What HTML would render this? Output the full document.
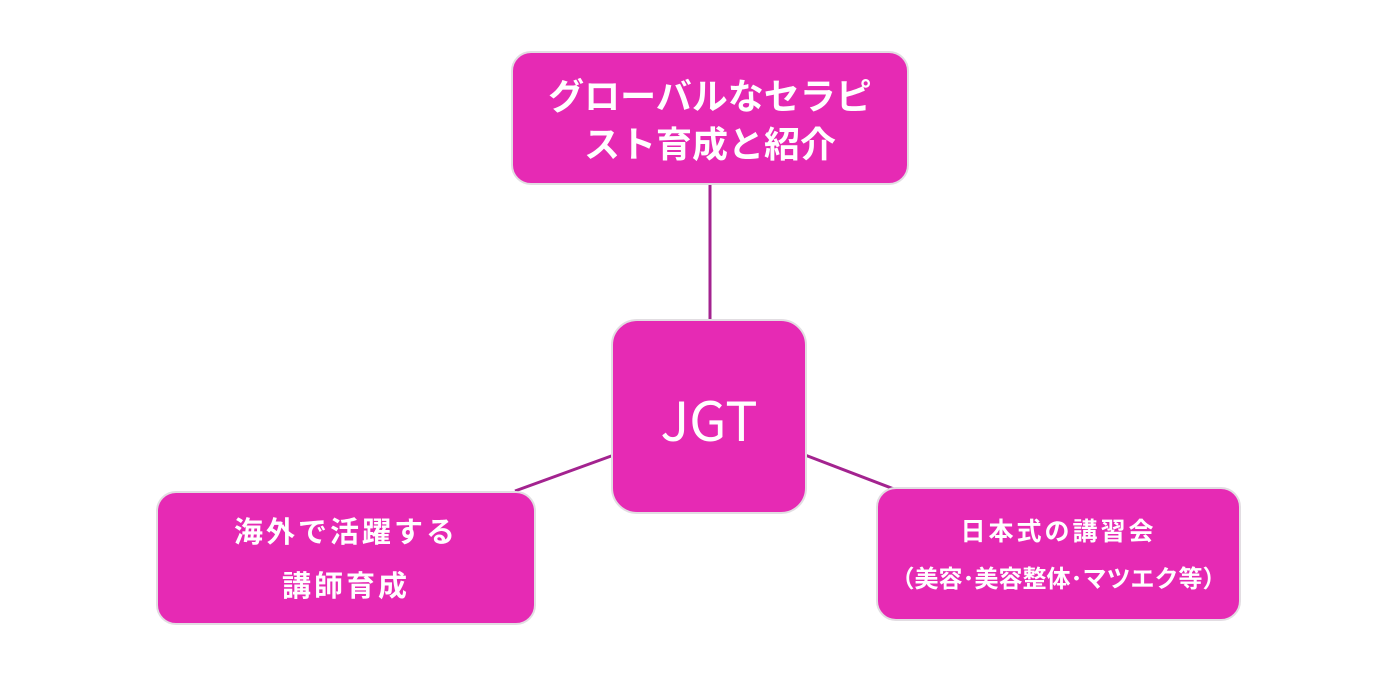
<!DOCTYPE html>
<html><head><meta charset="utf-8"><style>
body{margin:0;width:1390px;height:686px;background:#fff;position:relative;overflow:hidden;font-family:"Liberation Sans","Noto Sans CJK JP",sans-serif;}
.b{position:absolute;background:#e62ab4;border:2px solid #e2dde2;border-radius:20px;box-sizing:border-box;color:#fff;text-align:center;}
.l{position:absolute;left:0;right:0;white-space:nowrap;}
</style></head><body>
<svg width="1390" height="686" style="position:absolute;left:0;top:0">
<g stroke="#a3238f" stroke-width="3">
<line x1="710" y1="184" x2="710" y2="322"/>
<line x1="515" y1="491" x2="614" y2="455"/>
<line x1="805" y1="455" x2="894" y2="489"/>
</g></svg>
<div class="b" style="left:511px;top:51px;width:398px;height:134px;font-size:36px;font-weight:700;">
<div class="l" style="top:20px;line-height:48px">グローバルなセラピ</div>
<div class="l" style="top:68px;line-height:48px">スト育成と紹介</div>
</div>
<div class="b" style="left:611px;top:319px;width:196px;height:195px;border-radius:26px;font-size:54px;font-family:'Noto Sans CJK JP','Liberation Sans',sans-serif;">
<div class="l" style="top:62px;line-height:70px">JGT</div>
</div>
<div class="b" style="left:156px;top:491px;width:380px;height:134px;font-size:29px;font-weight:700;letter-spacing:3px;">
<div class="l" style="top:20px;line-height:40px">海外で活躍する</div>
<div class="l" style="top:74px;line-height:40px">講師育成</div>
</div>
<div class="b" style="left:876px;top:487px;width:365px;height:134px;font-size:25px;font-weight:700;">
<div class="l" style="top:25px;line-height:36px;letter-spacing:3px">日本式の講習会</div>
<div class="l" style="top:73px;line-height:36px;font-size:24px">（美容･美容整体･マツエク等）</div>
</div>
</body></html>
